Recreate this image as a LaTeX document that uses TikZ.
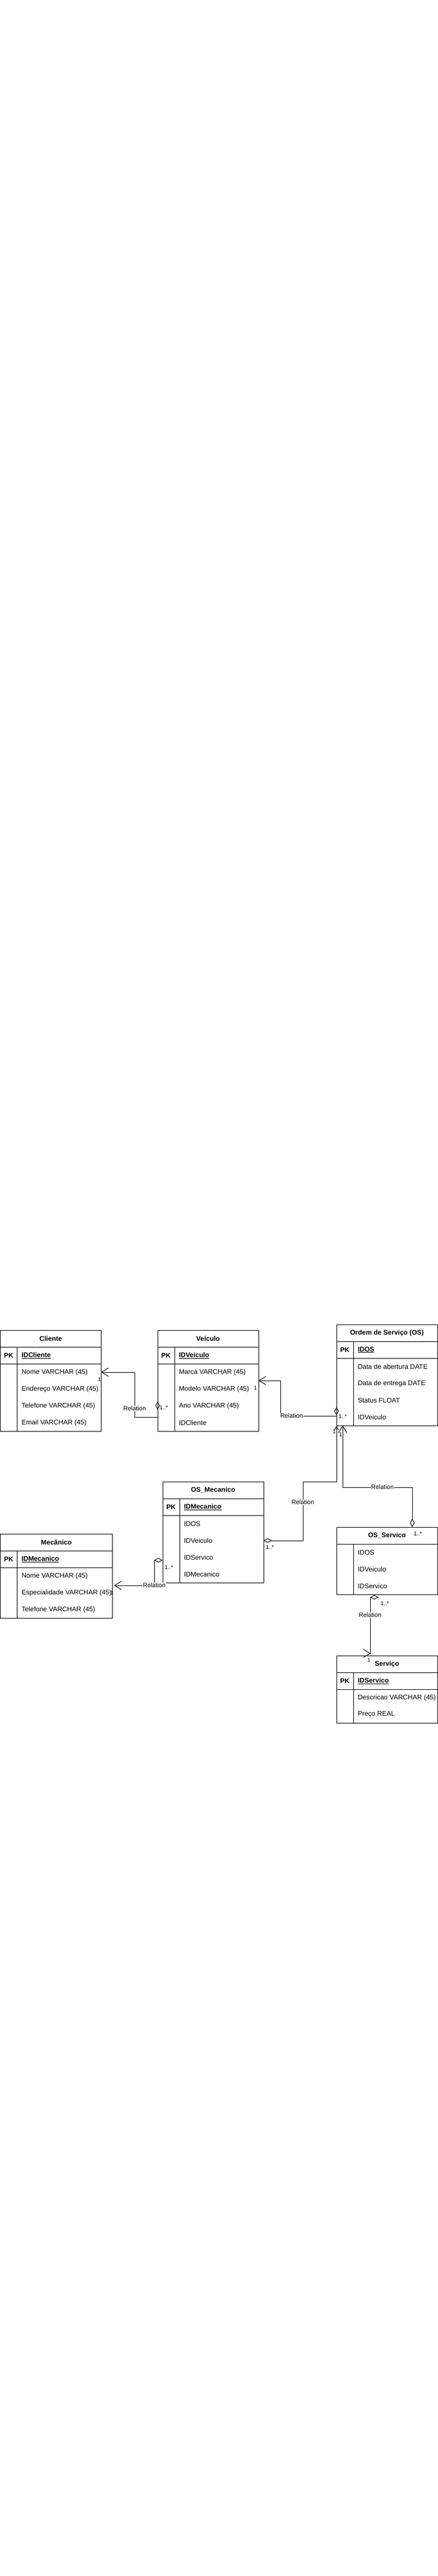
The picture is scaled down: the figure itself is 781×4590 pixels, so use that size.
\documentclass[tikz,border=0pt]{standalone}
\usepackage{fontspec}
\setmainfont{Liberation Sans}
\usetikzlibrary{positioning,arrows.meta,calc}
\newcommand{\erfont}{\fontsize{12pt}{14pt}\selectfont}

\begin{document}
\begin{tikzpicture}[x=1pt,y=-1pt,line width=1pt,
title/.style={draw, anchor=north west, minimum width=180pt, minimum height=30pt, inner sep=0pt, outer sep=0pt, font=\erfont\bfseries},
row/.style={draw, anchor=north west, minimum width=180pt, minimum height=30pt, inner sep=0pt, outer sep=0pt},
keycol/.style={draw, anchor=north west, minimum width=30pt, minimum height=30pt, inner sep=0pt, outer sep=0pt, font=\erfont\bfseries},
key/.style={anchor=west, inner sep=0pt, font=\erfont\bfseries},
field/.style={anchor=west, inner sep=0pt, font=\erfont},
rel/.style={fill=white, inner sep=1pt, font=\fontsize{11pt}{13pt}\selectfont},
card/.style={inner sep=0pt, font=\fontsize{10pt}{12pt}\selectfont},
agg/.style={{Diamond[open,length=15pt,width=8pt]}-{Straight Barb[length=12pt,width=15pt]}},
aggs/.style={{Diamond[open,length=15pt,width=8pt]}-{Straight Barb[length=7pt,width=7pt]}},
]
\useasboundingbox[fill=white] (0,0) rectangle (781,4590);

% Cliente
\node[title] (cli) at (0.5,2370) {Cliente};
\node[row] (cliK) at (0.5,2400) {};
\node[keycol] (cliPK) at (0.5,2400) {PK};
\node[key] (cliID) at (38,2415) {\underline{IDCliente}};
\node[row, minimum height=120pt] (cliB) at (0.5,2430) {};
\node[keycol, minimum height=120pt] (cliC) at (0.5,2430) {};
\node[field] (cliNome) at (38,2445) {Nome VARCHAR (45)};
\node[field] (cliEnd) at (38,2475) {Endereço VARCHAR (45)};
\node[field] (cliTel) at (38,2505) {Telefone VARCHAR (45)};
\node[field] (cliMail) at (38,2535) {Email VARCHAR (45)};

% Veiculo
\node[title] (vei) at (281,2370) {Veículo};
\node[row] (veiK) at (281,2400) {};
\node[keycol] (veiPK) at (281,2400) {PK};
\node[key] (veiID) at (318.5,2415) {\underline{IDVeiculo}};
\node[row, minimum height=120pt] (veiB) at (281,2430) {};
\node[keycol, minimum height=120pt] (veiC) at (281,2430) {};
\node[field] (veiMarca) at (318.5,2445) {Marca VARCHAR (45)};
\node[field] (veiModelo) at (318.5,2475) {Modelo VARCHAR (45)};
\node[field] (veiAno) at (318.5,2505) {Ano VARCHAR (45)};
\node[field] (veiCli) at (318.5,2535) {IDCliente};

% Ordem de Servico
\node[title] (os) at (600,2360) {Ordem de Serviço (OS)};
\node[row] (osK) at (600,2390) {};
\node[keycol] (osPK) at (600,2390) {PK};
\node[key] (osID) at (637.5,2405) {\underline{IDOS}};
\node[row, minimum height=120pt] (osB) at (600,2420) {};
\node[keycol, minimum height=120pt] (osC) at (600,2420) {};
\node[field] (osAbre) at (637.5,2435) {Data de abertura DATE};
\node[field] (osEntr) at (637.5,2465) {Data de entrega DATE};
\node[field] (osStat) at (637.5,2495) {Status FLOAT};
\node[field] (osVei) at (637.5,2525) {IDVeiculo};

% OS_Mecanico
\node[title] (om) at (290,2640) {OS\_Mecanico};
\node[row] (omK) at (290,2670) {};
\node[keycol] (omPK) at (290,2670) {PK};
\node[key] (omID) at (327.5,2685) {\underline{IDMecanico}};
\node[row, minimum height=120pt] (omB) at (290,2700) {};
\node[keycol, minimum height=120pt] (omC) at (290,2700) {};
\node[field] (omOS) at (327.5,2715) {IDOS};
\node[field] (omVei) at (327.5,2745) {IDVeiculo};
\node[field] (omSrv) at (327.5,2775) {IDServico};
\node[field] (omMec) at (327.5,2805) {IDMecanico};

% Mecanico
\node[title, minimum width=200pt] (mec) at (0.5,2733) {Mecânico};
\node[row, minimum width=200pt] (mecK) at (0.5,2763) {};
\node[keycol] (mecPK) at (0.5,2763) {PK};
\node[key] (mecID) at (38,2778) {\underline{IDMecanico}};
\node[row, minimum width=200pt, minimum height=90pt] (mecB) at (0.5,2793) {};
\node[keycol, minimum height=90pt] (mecC) at (0.5,2793) {};
\node[field] (mecNome) at (38,2808) {Nome VARCHAR (45)};
\node[field] (mecEsp) at (38,2838) {Especialidade VARCHAR (45)};
\node[field] (mecTel) at (38,2868) {Telefone VARCHAR (45)};

% OS_Servico
\node[title] (osv) at (600,2721) {OS\_Servico};
\node[row, minimum height=90pt] (osvB) at (600,2751) {};
\node[keycol, minimum height=90pt] (osvC) at (600,2751) {};
\node[field] (osvOS) at (637.5,2766) {IDOS};
\node[field] (osvVei) at (637.5,2796) {IDVeiculo};
\node[field] (osvSrv) at (637.5,2826) {IDServico};

% Servico
\node[title] (srv) at (600,2950) {Serviço};
\node[row] (srvK) at (600,2980) {};
\node[keycol] (srvPK) at (600,2980) {PK};
\node[key] (srvID) at (637.5,2995) {\underline{IDServico}};
\node[row, minimum height=60pt] (srvB) at (600,3010) {};
\node[keycol, minimum height=60pt] (srvC) at (600,3010) {};
\node[field] (srvDesc) at (637.5,3025) {Descricao VARCHAR (45)};
\node[field] (srvPreco) at (637.5,3055) {Preço REAL};

% relations
\draw[agg] ($(veiB.north west)+(0,67)$) -- ++(0,28) -| (240,2445) -- (cliNome -| cliB.east);
\draw[agg] ($(osB.north west)+(0,87)$) -- ++(0,16) -| (500,2460) -- ($(veiB.north east)+(0,30)$);
\draw[aggs] ($(omB.north east)+(0,45)$) -| (540,2640) -| (osB.south west);
\draw[agg] ($(osv.north west)+(135,0)$) |- (611,2650) -- ($(osB.south west)+(11,0)$);
\draw[agg] ($(omB.north west)+(0,80)$) -- ++(-15,0) |- ($(mecB.north east)+(3,32)$);
\draw[agg] ($(osvB.south west)+(75,5)$) -- ++(-15,0) -- ($(srv.north west)+(60,-4)$) -- ++(0.5,0);

\node[rel] (r1) at (240,2510) {Relation};
\node[rel] (r2) at (520,2523) {Relation};
\node[rel] (r3) at (540,2677) {Relation};
\node[rel] (r4) at (682,2650) {Relation};
\node[rel] (r5) at (275,2825) {Relation};
\node[rel] (r6) at (660,2878) {Relation};

\node[card] (c1a) at (177.5,2458) {1};
\node[card, anchor=west] (c1b) at (284,2508) {1..*};
\node[card] (c2a) at (455.5,2473) {1};
\node[card, anchor=west] (c2b) at (603,2524) {1..*};
\node[card] (c3a) at (596,2551) {1};
\node[card, anchor=west] (c3b) at (473,2757) {1..*};
\node[card] (c4a) at (607.5,2556) {1};
\node[card, anchor=west] (c4b) at (737,2733) {1..*};
\node[card] (c5a) at (199.5,2838) {1};
\node[card, anchor=west] (c5b) at (293,2793) {1..*};
\node[card] (c6a) at (658,2958) {1};
\node[card, anchor=west] (c6b) at (678,2857) {1..*};
\end{tikzpicture}
\end{document}
